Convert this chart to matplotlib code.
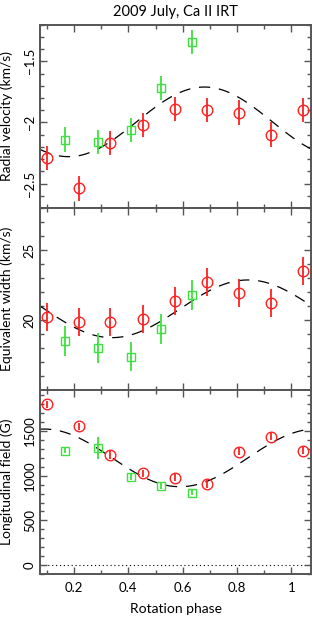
import numpy as np
import matplotlib
matplotlib.use("Agg")
import matplotlib.pyplot as plt
from matplotlib.ticker import MultipleLocator, FixedLocator, FuncFormatter

# ---------------- data ----------------
phase_red = [0.099, 0.217, 0.334, 0.453, 0.571, 0.689, 0.807, 0.925, 1.043]
phase_green = [0.168, 0.287, 0.408, 0.519, 0.636]

rv_red = [-2.29, -2.54, -2.17, -2.02, -1.89, -1.90, -1.92, -2.10, -1.90]
rv_red_err = [0.10] * 9
rv_green = [-2.14, -2.16, -2.06, -1.72, -1.34]
rv_green_err = [0.10] * 5

ew_red = [20.24, 19.83, 19.88, 20.07, 21.36, 22.74, 21.95, 21.19, 23.5]
ew_red_err = [1.0] * 9
ew_green = [18.5, 18.0, 17.38, 19.36, 21.79]
ew_green_err = [1.05] * 5

bl_red = [1799, 1553, 1232, 1027, 978, 907, 1269, 1437, 1280]
bl_red_err = [40] * 9
bl_green = [1280, 1307, 985, 885, 810]
bl_green_err = [30, 123, 30, 30, 30]

# fitted sinusoid parameters (mean, semi-amplitude, phase of maximum)
rv_fit = (-1.995, 0.285, 0.68)
ew_fit = (20.8, 2.06, 0.84)
bl_fit = (1200.0, 323.0, 0.09)

title = "2009 July, Ca II IRT"
ylabels = ["Radial velocity (km/s)", "Equivalent width (km/s)", "Longitudinal field (G)"]
xlabel = "Rotation phase"
x_ticks = [0.2, 0.4, 0.6, 0.8, 1.0]
rv_ticks = [-2.5, -2.0, -1.5]
ew_ticks = [20, 25]
bl_ticks = [0, 500, 1000, 1500]

# ---------------- plot ----------------
RED = "#ff2020"
GREEN = "#3ee03e"
SPINE = "#555555"

plt.rcParams['font.family'] = ['Lato', 'DejaVu Sans']
fig = plt.figure(figsize=(3.12, 6.2), dpi=100)

left, right = 40 / 312, 311 / 312
bounds = [24.7, 208, 390, 574]
axes = []
for i in range(3):
    top = 1 - bounds[i] / 620
    bot = 1 - bounds[i + 1] / 620
    ax = fig.add_axes([left, bot, right - left, top - bot])
    axes.append(ax)

xlim = (0.075, 1.072)
xs = np.linspace(xlim[0], xlim[1], 400)

panels = [
    (rv_red, rv_red_err, rv_green, rv_green_err, rv_fit, (-2.7, -1.2), rv_ticks, 0.1),
    (ew_red, ew_red_err, ew_green, ew_green_err, ew_fit, (15, 28), ew_ticks, 1),
    (bl_red, bl_red_err, bl_green, bl_green_err, bl_fit, (-100, 1960), bl_ticks, 100),
]

def fmt(v, pos):
    return ("%g" % v).replace("-", "\u2212")

for i, (ax, (yr, yre, yg, yge, fit, ylim, yt, mnr)) in enumerate(zip(axes, panels)):
    m, a, p0 = fit
    ax.plot(xs, m + a * np.cos(2 * np.pi * (xs - p0)), color="black", lw=0.9,
            dashes=(9, 7), zorder=2)
    ax.errorbar(phase_green, yg, yerr=yge, fmt="none", ecolor=GREEN, elinewidth=1.3,
                capsize=0, zorder=3)
    ax.plot(phase_green, yg, ls="none", marker="s", ms=6.0, mfc="none", mec=GREEN,
            mew=1.0, zorder=4)
    ax.errorbar(phase_red, yr, yerr=yre, fmt="none", ecolor=RED, elinewidth=1.3,
                capsize=0, zorder=3)
    ax.plot(phase_red, yr, ls="none", marker="o", ms=7.6, mfc="none", mec=RED,
            mew=1.0, zorder=4)
    if i == 2:
        ax.axhline(0, color="black", lw=0.8, ls=(0, (1, 2.5)), zorder=1)

    ax.set_xlim(*xlim)
    ax.set_ylim(*ylim)
    ax.xaxis.set_major_locator(FixedLocator(x_ticks))
    ax.xaxis.set_minor_locator(MultipleLocator(0.1))
    ax.yaxis.set_major_locator(FixedLocator(yt))
    ax.yaxis.set_minor_locator(MultipleLocator(mnr))
    ax.yaxis.set_major_formatter(FuncFormatter(fmt))
    ax.tick_params(which="both", direction="in", top=True, right=True, color=SPINE,
                   width=1.0)
    ax.tick_params(which="major", length=5)
    ax.tick_params(which="minor", length=3)
    ax.tick_params(axis="y", labelsize=9.5, pad=3)
    for lab in ax.get_yticklabels():
        lab.set_rotation(90)
        lab.set_va("center")
    for s in ax.spines.values():
        s.set_color(SPINE)
        s.set_linewidth(1.4)
    ax.set_ylabel(ylabels[i], fontsize=10)
    ax.yaxis.set_label_coords(-0.098, 0.5)
    if i < 2:
        ax.tick_params(axis="x", labelbottom=False)
    else:
        ax.xaxis.set_major_formatter(FuncFormatter(lambda v, p: "%g" % v))
        ax.tick_params(axis="x", labelsize=9.5, pad=6)
        ax.set_xlabel(xlabel, fontsize=10, labelpad=6)

axes[0].set_title(title, fontsize=10.5, pad=6)

fig.savefig("out.png", dpi=100)
